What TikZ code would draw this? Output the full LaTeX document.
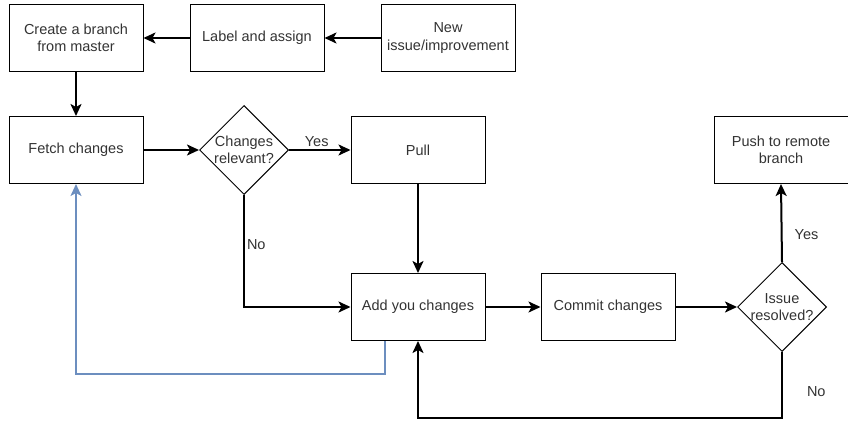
\documentclass[tikz,border=0pt]{standalone}
\usepackage{fontspec}
\setmainfont{Liberation Sans}
\usetikzlibrary{arrows.meta,shapes.geometric}
\definecolor{edgeblue}{HTML}{6C8EBF}
\definecolor{ink}{HTML}{333333}

\begin{document}
\begin{tikzpicture}[x=1pt,y=-1pt,
  every node/.style={font=\fontsize{14.5}{17.5}\selectfont, text=ink},
  box/.style={draw=black, line width=1pt, minimum width=134pt, minimum height=67pt,
              align=center, inner sep=2pt},
  decision/.style={draw=black, line width=1pt, diamond, minimum width=89pt,
                   minimum height=89pt, inner sep=0pt},
  dtext/.style={align=center, inner sep=0pt},
  arr/.style={draw=black, line width=2pt, -{Stealth[length=12pt,width=11pt,inset=3pt]}},
  backarr/.style={draw=edgeblue, line width=1.6pt, -{Stealth[length=12pt,width=11pt,inset=3pt]}},
  lbl/.style={inner sep=2pt}]

\useasboundingbox (0,0) rectangle (848,422);

% top row
\node[box] (create) at (76,38) {Create a branch\\from master};
\node[box] (label)  at (257,38) {Label and assign};
\node[box] (new)    at (448,38) {New\\issue/improvement};

% middle row
\node[box] (fetch) at (76,150) {Fetch changes};
\node[decision] (rel) at (244,150) {};
\node[dtext] at (rel) {Changes\\relevant?};
\node[box] (pull) at (418,150) {Pull};
\node[box] (push) at (781,150) {Push to remote\\branch};

% bottom row
\node[box] (add)    at (418,307) {Add you changes};
\node[box] (commit) at (608,307) {Commit changes};
\node[decision] (res) at (782,307) {};
\node[dtext] at (res) {Issue\\resolved?};

% connectors
\draw[arr] (new) -- (label);
\draw[arr] (label) -- (create);
\draw[arr] (create) -- (fetch);
\draw[arr] (fetch) -- (rel);
\draw[arr] (rel) -- node[lbl, above, pos=0.45] {Yes} (pull);
\draw[arr] (rel.south) |- node[lbl, right, pos=0.22] {No} (add.west);
\draw[arr] (pull) -- (add);
\draw[arr] (add) -- (commit);
\draw[arr] (commit) -- (res);
\draw[arr] (res.north) -- node[lbl, right, pos=0.35, xshift=10pt] {Yes} (push.south);
\coordinate (loopcorner) at (782,418);
\draw[arr] (res.south) -- node[lbl, right, pos=0.6, xshift=22pt] {No} (loopcorner) -| (add.south);
\draw[backarr] ([xshift=-33pt]add.south) -- ++(0,33) -| (fetch.south);

\end{tikzpicture}
\end{document}
